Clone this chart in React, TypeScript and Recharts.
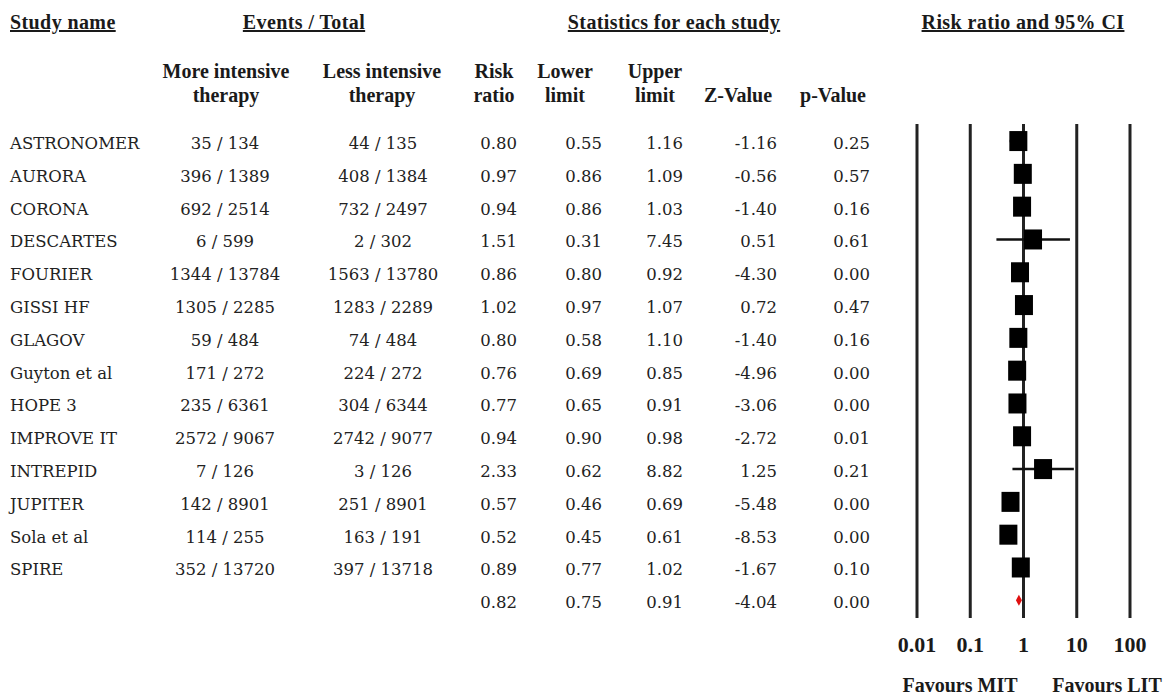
import { ErrorBar, ReferenceLine, Scatter, ScatterChart, XAxis, YAxis } from "recharts";

const studies = [
  "ASTRONOMER",
  "AURORA",
  "CORONA",
  "DESCARTES",
  "FOURIER",
  "GISSI HF",
  "GLAGOV",
  "Guyton et al",
  "HOPE 3",
  "IMPROVE IT",
  "INTREPID",
  "JUPITER",
  "Sola et al",
  "SPIRE",
];
const mitEvents = [35, 396, 692, 6, 1344, 1305, 59, 171, 235, 2572, 7, 142, 114, 352];
const mitTotal = [134, 1389, 2514, 599, 13784, 2285, 484, 272, 6361, 9067, 126, 8901, 255, 13720];
const litEvents = [44, 408, 732, 2, 1563, 1283, 74, 224, 304, 2742, 3, 251, 163, 397];
const litTotal = [135, 1384, 2497, 302, 13780, 2289, 484, 272, 6344, 9077, 126, 8901, 191, 13718];
const riskRatio = [0.8, 0.97, 0.94, 1.51, 0.86, 1.02, 0.8, 0.76, 0.77, 0.94, 2.33, 0.57, 0.52, 0.89];
const lowerLimit = [0.55, 0.86, 0.86, 0.31, 0.8, 0.97, 0.58, 0.69, 0.65, 0.9, 0.62, 0.46, 0.45, 0.77];
const upperLimit = [1.16, 1.09, 1.03, 7.45, 0.92, 1.07, 1.1, 0.85, 0.91, 0.98, 8.82, 0.69, 0.61, 1.02];
const zValue = [-1.16, -0.56, -1.4, 0.51, -4.3, 0.72, -1.4, -4.96, -3.06, -2.72, 1.25, -5.48, -8.53, -1.67];
const pValue = [0.25, 0.57, 0.16, 0.61, 0.0, 0.47, 0.16, 0.0, 0.0, 0.01, 0.21, 0.0, 0.0, 0.1];

// pooled estimate (last row)
const pooledRR = 0.82;
const pooledLower = 0.75;
const pooledUpper = 0.91;
const pooledZ = -4.04;
const pooledP = 0.0;

const axisTicks = [0.01, 0.1, 1, 10, 100];

const headFont = "'Liberation Serif', 'Times New Roman', serif";
const bodyFont = "'DejaVu Serif', serif";
const ROW_TOP = 132;
const ROW_H = 32.8;

const head = {
  position: "absolute" as const,
  fontFamily: headFont,
  fontWeight: 700,
  fontSize: 20,
  lineHeight: "24px",
  color: "#1a1a1a",
  whiteSpace: "nowrap" as const,
};

const groupHead = { ...head, textDecoration: "underline", letterSpacing: 0.4 };

const body = {
  position: "absolute" as const,
  fontFamily: bodyFont,
  fontSize: 16.5,
  lineHeight: "24px",
  color: "#222",
  whiteSpace: "nowrap" as const,
};

function Centered({ x, top, children, style }: any) {
  return (
    <div style={{ ...style, top, left: x - 150, width: 300, textAlign: "center" }}>{children}</div>
  );
}

function Right({ x, top, children, style }: any) {
  return (
    <div style={{ ...style, top, left: x - 200, width: 200, textAlign: "right" }}>{children}</div>
  );
}

const SquareMark = (props: any) => {
  const { cx, cy } = props;
  if (cx == null || cy == null) return null;
  return <rect x={cx - 9} y={cy - 10} width={18} height={20} fill="#000" />;
};

const DiamondMark = (props: any) => {
  const { cx, cy } = props;
  if (cx == null || cy == null) return null;
  return (
    <polygon
      points={`${cx - 3},${cy} ${cx},${cy - 5.5} ${cx + 3},${cy} ${cx},${cy + 5.5}`}
      fill="#e01010"
    />
  );
};

export default function App() {
  const points = studies.map((name, i) => ({
    name,
    row: i,
    rr: riskRatio[i],
    ci: [riskRatio[i] - lowerLimit[i], upperLimit[i] - riskRatio[i]],
  }));
  const pooled = [{ name: "Overall", row: studies.length, rr: pooledRR }];

  const statRows = studies.map((_, i) => ({
    rr: riskRatio[i],
    lo: lowerLimit[i],
    hi: upperLimit[i],
    z: zValue[i],
    p: pValue[i],
  }));
  statRows.push({ rr: pooledRR, lo: pooledLower, hi: pooledUpper, z: pooledZ, p: pooledP });

  return (
    <div
      style={{
        position: "absolute",
        left: 0,
        top: 0,
        width: 1167,
        height: 698,
        background: "#fff",
        overflow: "hidden",
      }}
    >
      <div style={{ position: "absolute", left: 0, top: 0 }}>
        <ScatterChart width={1167} height={698} margin={{ top: 124, right: 37, bottom: 50, left: 917 }}>
          <XAxis
            type="number"
            dataKey="rr"
            scale="log"
            domain={[0.01, 100]}
            ticks={axisTicks}
            interval={0}
            allowDataOverflow
            axisLine={false}
            tickLine={false}
            tickMargin={12}
            height={30}
            tickFormatter={(v: number) => String(v)}
            tick={{ fill: "#1a1a1a", fontSize: 22, fontWeight: 700, fontFamily: headFont }}
          />
          <YAxis type="number" dataKey="row" hide reversed domain={[-0.52, 14.54]} allowDataOverflow />
          {axisTicks.map((t) => (
            <ReferenceLine key={t} x={t} stroke="#222" strokeWidth={3} />
          ))}
          <Scatter data={points} shape={SquareMark} isAnimationActive={false}>
            <ErrorBar dataKey="ci" direction="x" width={0} stroke="#111" strokeWidth={2.5} />
          </Scatter>
          <Scatter data={pooled} shape={DiamondMark} isAnimationActive={false} />
        </ScatterChart>
      </div>

      {/* group headers */}
      <div style={{ ...groupHead, top: 10, left: 10 }}>Study name</div>
      <Centered x={304} top={10} style={groupHead}>
        Events / Total
      </Centered>
      <Centered x={674} top={10} style={groupHead}>
        Statistics for each study
      </Centered>
      <Centered x={1023} top={10} style={groupHead}>
        Risk ratio and 95% CI
      </Centered>

      {/* column headers */}
      <Centered x={226} top={59} style={head}>
        More intensive
        <br />
        therapy
      </Centered>
      <Centered x={382} top={59} style={head}>
        Less intensive
        <br />
        therapy
      </Centered>
      <Centered x={494} top={59} style={head}>
        Risk
        <br />
        ratio
      </Centered>
      <Centered x={565} top={59} style={head}>
        Lower
        <br />
        limit
      </Centered>
      <Centered x={655} top={59} style={head}>
        Upper
        <br />
        limit
      </Centered>
      <Centered x={738} top={83} style={head}>
        Z-Value
      </Centered>
      <Centered x={833} top={83} style={head}>
        p-Value
      </Centered>

      {/* study rows */}
      {studies.map((name, i) => (
        <div key={name}>
          <div style={{ ...body, top: ROW_TOP + ROW_H * i, left: 10 }}>{name}</div>
          <Centered x={225} top={ROW_TOP + ROW_H * i} style={body}>
            {mitEvents[i]} / {mitTotal[i]}
          </Centered>
          <Centered x={383} top={ROW_TOP + ROW_H * i} style={body}>
            {litEvents[i]} / {litTotal[i]}
          </Centered>
        </div>
      ))}
      {statRows.map((s, i) => (
        <div key={i}>
          <Right x={517} top={ROW_TOP + ROW_H * i} style={body}>
            {s.rr.toFixed(2)}
          </Right>
          <Right x={602} top={ROW_TOP + ROW_H * i} style={body}>
            {s.lo.toFixed(2)}
          </Right>
          <Right x={683} top={ROW_TOP + ROW_H * i} style={body}>
            {s.hi.toFixed(2)}
          </Right>
          <Right x={777} top={ROW_TOP + ROW_H * i} style={body}>
            {s.z.toFixed(2)}
          </Right>
          <Right x={870} top={ROW_TOP + ROW_H * i} style={body}>
            {s.p.toFixed(2)}
          </Right>
        </div>
      ))}

      {/* favours labels */}
      <Centered x={960} top={673} style={head}>
        Favours MIT
      </Centered>
      <Centered x={1107} top={673} style={head}>
        Favours LIT
      </Centered>
    </div>
  );
}
